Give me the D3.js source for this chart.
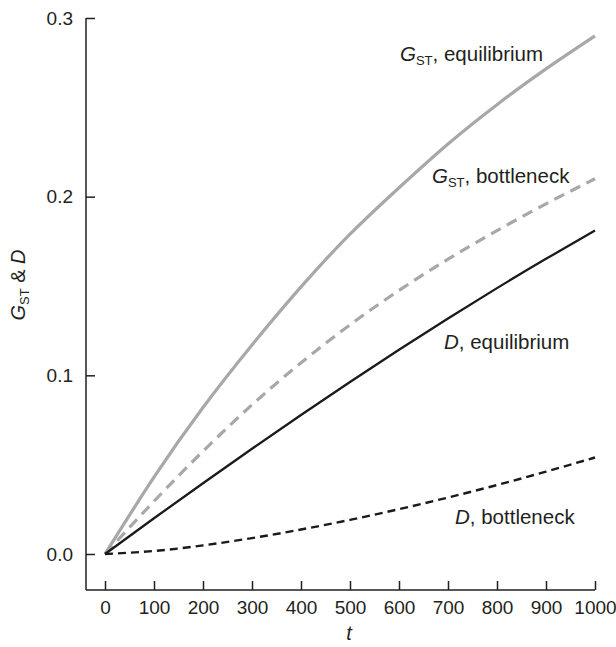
<!DOCTYPE html>
<html>
<head>
<meta charset="utf-8">
<script src="https://cdn.jsdelivr.net/npm/d3@7"></script>
<style>
  body { margin: 0; background: #fff; }
  svg text { font-family: "Liberation Sans", Arial, Helvetica, sans-serif; fill: #231f20; }
</style>
</head>
<body>
<svg id="chart"></svg>
<script>
// values
const tValues = [0, 100, 200, 300, 400, 500, 600, 700, 800, 900, 1000];
const gstEquilibrium = [0, 0.043, 0.082, 0.117, 0.1495, 0.179, 0.205, 0.2295, 0.2515, 0.2715, 0.290];
const gstBottleneck = [0, 0.0295, 0.0575, 0.0835, 0.107, 0.1283, 0.1475, 0.165, 0.181, 0.196, 0.210];
const dEquilibrium = [0, 0.020, 0.0396, 0.0589, 0.0778, 0.0963, 0.1143, 0.1318, 0.1488, 0.1652, 0.181];
const dBottleneck = [0, 0.0017, 0.0048, 0.0089, 0.0137, 0.0191, 0.0251, 0.0316, 0.0386, 0.0461, 0.054];
const xTicks = [0, 100, 200, 300, 400, 500, 600, 700, 800, 900, 1000];
const yTicks = [0, 0.1, 0.2, 0.3];

const width = 616, height = 647;
const svg = d3.select("#chart").attr("width", width).attr("height", height);

const axisX = 86, axisY = 590;   // where the two axis lines meet
const x = d3.scaleLinear().domain([0, 1000]).range([105, 595]);
const y = d3.scaleLinear().domain([0, 0.3]).range([554, 18]);

// series
const series = [
  {name: "gstEq", values: gstEquilibrium, color: "#a8a8a8", w: 3.2, dash: null},
  {name: "gstBn", values: gstBottleneck, color: "#a8a8a8", w: 3.2, dash: "11,7"},
  {name: "dEq", values: dEquilibrium, color: "#1a1a1a", w: 2.3, dash: null},
  {name: "dBn", values: dBottleneck, color: "#1a1a1a", w: 2.4, dash: "8,5"}
];

const line = d3.line()
  .x(d => x(d[0]))
  .y(d => y(d[1]))
  .curve(d3.curveNatural);

svg.append("g")
  .attr("fill", "none")
  .selectAll("path")
  .data(series)
  .join("path")
  .attr("d", s => line(tValues.map((t, i) => [t, s.values[i]])))
  .attr("stroke", s => s.color)
  .attr("stroke-width", s => s.w)
  .attr("stroke-dasharray", s => s.dash);

// axes (ticks point inwards, lines meet at the corner)
const xAxis = svg.append("g")
  .attr("transform", `translate(0,${axisY})`)
  .call(d3.axisBottom(x).tickValues(xTicks).tickFormat(d3.format("d"))
    .tickSize(-9).tickSizeOuter(0).tickPadding(11));
xAxis.select(".domain").remove();
xAxis.append("line").attr("x1", axisX).attr("x2", x(1000)).attr("stroke", "#231f20").attr("stroke-width", 1.5);

const yAxis = svg.append("g")
  .attr("transform", `translate(${axisX},0)`)
  .call(d3.axisLeft(y).tickValues(yTicks).tickFormat(d3.format(".1f"))
    .tickSize(-9).tickSizeOuter(0).tickPadding(13));
yAxis.select(".domain").remove();
yAxis.append("line").attr("y1", y(0.3)).attr("y2", axisY).attr("stroke", "#231f20").attr("stroke-width", 1.5);

svg.selectAll(".tick line").attr("stroke", "#231f20").attr("stroke-width", 1.5);
svg.selectAll(".tick text").attr("font-size", 19).style("fill", "#231f20")
  .attr("font-family", "'Liberation Sans', Arial, sans-serif");

// axis titles
svg.append("text")
  .attr("x", 349).attr("y", 640)
  .attr("text-anchor", "middle")
  .attr("font-size", 20)
  .attr("font-style", "italic")
  .text("t");

const yTitle = svg.append("text")
  .attr("transform", "translate(25,285) rotate(-90)")
  .attr("text-anchor", "middle")
  .attr("font-size", 20);
yTitle.append("tspan").attr("font-style", "italic").text("G");
yTitle.append("tspan").attr("font-size", 13).attr("dy", 4).text("ST");
yTitle.append("tspan").attr("dy", -4).text(" & ");
yTitle.append("tspan").attr("font-style", "italic").text("D");

// curve labels
const labels = [
  {sym: "G", sub: "ST", rest: ", equilibrium", x: 400, y: 61},
  {sym: "G", sub: "ST", rest: ", bottleneck", x: 432, y: 183},
  {sym: "D", sub: null, rest: ", equilibrium", x: 444, y: 349},
  {sym: "D", sub: null, rest: ", bottleneck", x: 455, y: 524}
];

labels.forEach(l => {
  const t = svg.append("text").attr("x", l.x).attr("y", l.y).attr("font-size", 20.5);
  t.append("tspan").attr("font-style", "italic").text(l.sym);
  if (l.sub) {
    t.append("tspan").attr("font-size", 13).attr("dy", 4).text(l.sub);
    t.append("tspan").attr("dy", -4).text(l.rest);
  } else {
    t.append("tspan").text(l.rest);
  }
});
</script>
</body>
</html>
